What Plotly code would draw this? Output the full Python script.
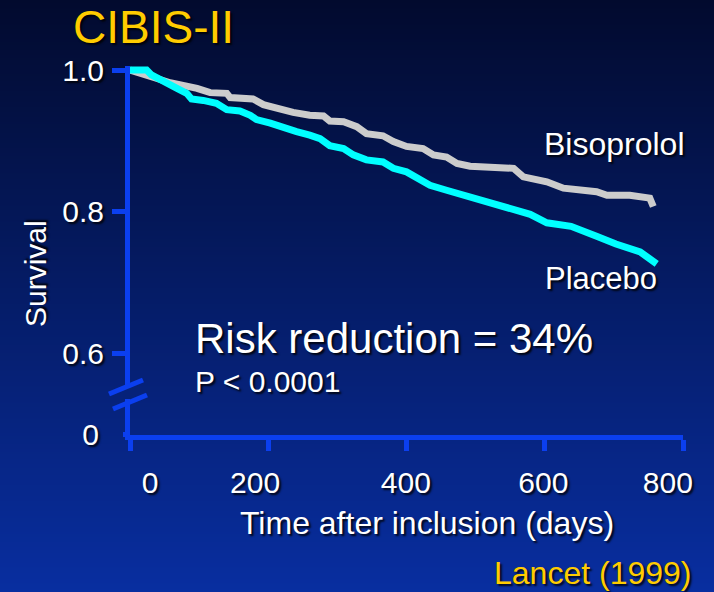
import base64, struct, zlib
import plotly.graph_objects as go

# ---------------- data ----------------
days_biso = [0, 19, 39, 58, 77, 97, 116, 140, 145, 169, 178, 193, 217, 236, 260, 280, 289, 309, 328, 342,
             366, 381, 400, 424, 439, 458, 473, 492, 555, 569, 603, 627, 675, 690, 723, 752, 757]
surv_biso = [1.0, 0.995, 0.988, 0.982, 0.979, 0.974, 0.968, 0.967, 0.961, 0.961, 0.959, 0.951, 0.944, 0.940, 0.936, 0.935, 0.928, 0.927, 0.920, 0.910,
             0.907, 0.899, 0.892, 0.889, 0.880, 0.877, 0.868, 0.864, 0.861, 0.849, 0.842, 0.833, 0.828, 0.823, 0.823, 0.819, 0.807]

days_plac = [0, 24, 31, 48, 68, 82, 89, 106, 125, 140, 159, 174, 183, 203, 222, 241, 260, 275, 289, 309, 323,
             342, 366, 381, 400, 415, 434, 458, 492, 506, 545, 579, 603, 638, 675, 703, 738, 762]
surv_plac = [1.0, 1.0, 0.993, 0.983, 0.974, 0.967, 0.959, 0.957, 0.953, 0.944, 0.942, 0.936, 0.930, 0.925, 0.918, 0.913, 0.908, 0.903, 0.893, 0.889, 0.880,
             0.873, 0.870, 0.861, 0.856, 0.847, 0.837, 0.830, 0.821, 0.816, 0.807, 0.796, 0.784, 0.779, 0.765, 0.754, 0.743, 0.726]

x_ticks = [0, 200, 400, 600, 800]
x_tick_labels = ["0", "200", "400", "600", "800"]
x_label_pos = [29, 181, 399, 598, 778]      # where the slide places the labels
y_ticks = [0.6, 0.8, 1.0]
y_tick_labels = ["0.6", "0.8", "1.0"]
y_break_label = "0"

# ---------------- geometry ----------------
W, H = 714, 592
ML, MR, MT, MB = 130, 31, 66, 157
PW, PH = W - ML - MR, H - MT - MB
Y_TOP = 1.0 + 4 / 707.5
Y_BOT = Y_TOP - PH / 707.5

def px(xp):
    return (xp - ML) / PW

def py(yp):
    return (H - MB - yp) / PH

TOP_RGB = (2, 10, 46)
BOT_RGB = (8, 46, 160)

def grad_color(t):
    return tuple(int(round(a + (b - a) * t)) for a, b in zip(TOP_RGB, BOT_RGB))

def gradient_png(h):
    rows = b""
    for i in range(h):
        r, g, b = grad_color(i / (h - 1))
        rows += b"\x00" + bytes([r, g, b]) * 2
    def chunk(tag, data):
        return struct.pack(">I", len(data)) + tag + data + struct.pack(">I", zlib.crc32(tag + data) & 0xffffffff)
    png = (b"\x89PNG\r\n\x1a\n"
           + chunk(b"IHDR", struct.pack(">IIBBBBB", 2, h, 8, 2, 0, 0, 0))
           + chunk(b"IDAT", zlib.compress(rows))
           + chunk(b"IEND", b""))
    return "data:image/png;base64," + base64.b64encode(png).decode()

BLUE = "#0B3FEF"
FONT = "Liberation Sans, Arial, sans-serif"
SHADOW = "2px 2px 2px rgba(0,0,0,0.85)"
WHITE = "#FFFFFF"
YELLOW = "#FFCC00"

fig = go.Figure()
fig.add_trace(go.Scatter(x=days_biso, y=surv_biso, mode="lines", name="Bisoprolol",
                         line=dict(color="#CCCCCC", width=7), showlegend=False, hoverinfo="skip"))
fig.add_trace(go.Scatter(x=days_plac, y=surv_plac, mode="lines", name="Placebo",
                         line=dict(color="#00FFFF", width=7), showlegend=False, hoverinfo="skip"))
# carriers for the overlay axes
fig.add_trace(go.Scatter(x=[], y=[], xaxis="x2", yaxis="y", showlegend=False, hoverinfo="skip"))
fig.add_trace(go.Scatter(x=[], y=[], xaxis="x", yaxis="y2", showlegend=False, hoverinfo="skip"))

tickfont = dict(family=FONT, size=30, color=WHITE, shadow=SHADOW)

fig.update_layout(
    width=W, height=H,
    margin=dict(l=ML, r=MR, t=MT, b=MB, pad=0),
    paper_bgcolor="rgb(4,28,103)",
    plot_bgcolor="rgba(0,0,0,0)",
    showlegend=False,
    title=dict(text="CIBIS-II", x=73 / W, xref="container", xanchor="left",
               y=1 - 27 / H, yref="container", yanchor="middle",
               font=dict(family=FONT, size=46, color=YELLOW, shadow=SHADOW)),
    xaxis=dict(range=[0, 800], tickvals=x_ticks, showticklabels=False,
               ticks="outside", ticklen=11, tickwidth=5, tickcolor=BLUE,
               showline=True, linecolor=BLUE, linewidth=5,
               showgrid=False, zeroline=False, fixedrange=True),
    xaxis2=dict(range=[0, 800], overlaying="x", anchor="y", side="bottom",
                tickvals=x_label_pos, ticktext=x_tick_labels, ticks="",
                ticklabelstandoff=27, tickfont=tickfont,
                showline=False, showgrid=False, zeroline=False, fixedrange=True),
    yaxis=dict(range=[Y_BOT, Y_TOP], tickvals=y_ticks, ticktext=y_tick_labels,
               ticks="outside", ticklen=13, tickwidth=5, tickcolor=BLUE,
               showline=True, linecolor=BLUE, linewidth=5, tickfont=tickfont,
               ticklabelstandoff=2,
               showgrid=False, zeroline=False, fixedrange=True),
    yaxis2=dict(range=[Y_BOT, Y_TOP], overlaying="y", anchor="x", side="left",
                tickvals=[Y_BOT + 0.0005], ticktext=[y_break_label],
                ticks="outside", ticklen=6, tickwidth=5, tickcolor=BLUE,
                tickfont=tickfont, ticklabelstandoff=18,
                showline=False, showgrid=False, zeroline=False, fixedrange=True),
    images=[dict(source=gradient_png(H), xref="paper", yref="paper",
                 x=-ML / PW, y=1 + MT / PH, sizex=W / PW, sizey=H / PH,
                 xanchor="left", yanchor="top", sizing="stretch", layer="below")],
)

# axis break: gap in the vertical axis plus two slashes
gap = "rgb(%d,%d,%d)" % grad_color(392 / H)
fig.add_shape(type="rect", xref="paper", yref="paper",
              x0=px(123), x1=px(133), y0=py(399), y1=py(385),
              fillcolor=gap, line=dict(width=0), layer="above")
fig.add_shape(type="line", xref="paper", yref="paper",
              x0=px(109), y0=py(394), x1=px(143), y1=py(380),
              line=dict(color=BLUE, width=5), layer="above")
fig.add_shape(type="line", xref="paper", yref="paper",
              x0=px(113), y0=py(409), x1=px(147), y1=py(395),
              line=dict(color=BLUE, width=5), layer="above")

def label(text, x, y, size, color=WHITE, xanchor="left", angle=0):
    fig.add_annotation(text=text, xref="paper", yref="paper", x=px(x), y=py(y),
                       xanchor=xanchor, yanchor="middle", showarrow=False, textangle=angle,
                       font=dict(family=FONT, size=size, color=color, shadow=SHADOW))

label("Survival", 35, 274, 30, xanchor="center", angle=-90)
label("Time after inclusion (days)", 427, 523, 32, xanchor="center")
label("Bisoprolol", 542, 144, 32)
label("Placebo", 543, 278, 31)
label("Risk reduction = 34%", 193, 338, 42)
label("P < 0.0001", 193, 381, 30)
label("Lancet (1999)", 492, 573, 32, color=YELLOW)

fig.write_html("out.html")
